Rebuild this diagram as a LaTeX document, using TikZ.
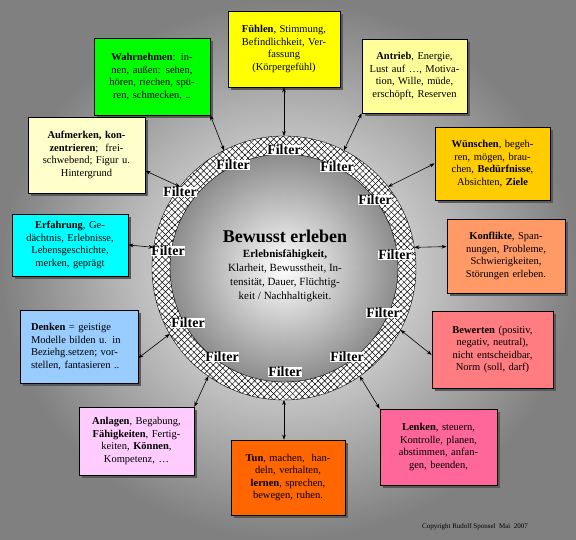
\documentclass[tikz,border=0pt]{standalone}
\usepackage{fontspec}
\setmainfont{Liberation Serif}
\usepackage{tikz}
\usetikzlibrary{arrows.meta,shadows,patterns.meta}

\definecolor{cFuehlen}{HTML}{FFFF00}
\definecolor{cWahr}{HTML}{00FF00}
\definecolor{cAntrieb}{HTML}{FFFF99}
\definecolor{cAufm}{HTML}{FFFFCC}
\definecolor{cWunsch}{HTML}{FFCC00}
\definecolor{cErf}{HTML}{00FFFF}
\definecolor{cKonf}{HTML}{FF9966}
\definecolor{cDenk}{HTML}{99CCFF}
\definecolor{cBew}{HTML}{FF7C80}
\definecolor{cAnl}{HTML}{FFCCFF}
\definecolor{cTun}{HTML}{FF6600}
\definecolor{cLenk}{HTML}{FF6699}

\begin{document}
\begin{tikzpicture}[x=1pt, y=-1pt,
  box/.style={draw, thick, align=center, inner sep=2pt,
    font=\fontsize{10.5}{12.5}\selectfont,
    drop shadow={shadow xshift=3pt, shadow yshift=-3pt, fill=black!65, opacity=1}},
  filter/.style={fill=white, inner sep=0.5pt, font=\fontsize{14}{14}\selectfont\bfseries},
  arrow/.style={{Stealth[length=5pt]}-{Stealth[length=5pt]}, semithick},
]
  \useasboundingbox (0,0) rectangle (576,540);
  \shade[inner color=white, outer color=black!50] (0,0) rectangle (576,540);

  % ring with filters
  \coordinate (c) at (284,268);
  \fill[white] (c) circle (132pt);
  \fill[pattern={Lines[angle=45, distance=4.5pt, line width=0.5pt]}] (c) circle (132pt);
  \fill[pattern={Lines[angle=-45, distance=4.5pt, line width=0.5pt]}] (c) circle (132pt);
  \shade[inner color=white, outer color=black!45] (c) circle (114pt);
  \draw (c) circle (132pt);
  \draw (c) circle (114pt);

  \node[align=center, font=\fontsize{11}{14}\selectfont] (core) at (285,266)
    {{\fontsize{18}{20}\selectfont\bfseries Bewusst erleben}\\[1pt]
     \textbf{Erlebnisfähigkeit,}\\ Klarheit, Bewusstheit, In-\\
     tensität, Dauer, Flüchtig-\\ keit / Nachhaltigkeit.};

  \foreach \x/\y [count=\i] in {284/150, 337/167, 375/200, 395/255, 383/313, 347/357,
      285/372, 222/357, 188/323, 168/251, 180/192, 233/165}
    \node[filter] (f\i) at (\x,\y) {Filter};

  % points on the ring
  \foreach \a [count=\i] in {90, 117, 63, 142, 38, 171, 9, -150, -28, -125, -90, -55}
    \coordinate (r\i) at ([shift={(\a:132pt)}]c);

  % boxes
  \node[box, fill=cFuehlen, minimum width=112pt, minimum height=76pt, text width=106pt] (fuehlen) at (284,49)
    {\textbf{Fühlen}, Stimmung,\\ Befindlichkeit, Ver-\\ fassung\\ (Körpergefühl)};
  \node[box, fill=cWahr, minimum width=116pt, minimum height=77pt, text width=110pt] (wahr) at (152,76.5)
    {\textbf{Wahrnehmen}: in-\\ nen, außen: sehen,\\ hören, riechen, spü-\\ ren, schmecken, ..};
  \node[box, fill=cAntrieb, minimum width=105pt, minimum height=74pt, text width=100pt] (antrieb) at (414.5,76)
    {\textbf{Antrieb}, Energie,\\ Lust auf \ldots, Motiva-\\ tion, Wille, müde,\\ erschöpft, Reserven};
  \node[box, fill=cAufm, minimum width=117pt, minimum height=76pt, text width=111pt] (aufm) at (86.5,155)
    {\textbf{Aufmerken, kon-}\\ \textbf{zentrieren};\ \ frei-\\ schwebend; Figur u.\\ Hintergrund};
  \node[box, fill=cWunsch, minimum width=115pt, minimum height=73pt, text width=109pt] (wunsch) at (492.5,163.5)
    {\textbf{Wünschen}, begeh-\\ ren, mögen, brau-\\ chen, \textbf{Bedürfnisse},\\ Absichten, \textbf{Ziele}};
  \node[box, fill=cErf, minimum width=116pt, minimum height=62pt, text width=110pt] (erf) at (70,245)
    {\textbf{Erfahrung}, Ge-\\ dächtnis, Erlebnisse,\\ Lebensgeschichte,\\ merken, geprägt};
  \node[box, fill=cKonf, minimum width=118pt, minimum height=74pt, text width=112pt] (konf) at (506,256)
    {\textbf{Konflikte}, Span-\\ nungen, Probleme,\\ Schwierigkeiten,\\ Störungen erleben.};
  \node[box, fill=cDenk, minimum width=118pt, minimum height=73pt, text width=96pt, align=left] (denk) at (79,346.5)
    {\makebox[96pt][s]{\textbf{Denken} = geistige}\\ \makebox[96pt][s]{Modelle bilden u. in}\\
     \makebox[96pt][s]{Beziehg.setzen; vor-}\\ stellen, fantasieren ..};
  \node[box, fill=cBew, minimum width=121pt, minimum height=77pt, text width=115pt] (bew) at (492.5,349.5)
    {\textbf{Bewerten} (positiv,\\ negativ, neutral),\\ nicht entscheidbar,\\ Norm (soll, darf)};
  \node[box, fill=cAnl, minimum width=115pt, minimum height=68pt, text width=109pt] (anl) at (136.5,441)
    {\textbf{Anlagen}, Begabung,\\ \textbf{Fähigkeiten}, Fertig-\\ keiten, \textbf{Können},\\ Kompetenz, \ldots};
  \node[box, fill=cTun, minimum width=114pt, minimum height=75pt, text width=108pt] (tun) at (288,477.5)
    {\textbf{Tun}, machen,\ \ han-\\ deln, verhalten,\\ \textbf{lernen}, sprechen,\\ bewegen, ruhen.};
  \node[box, fill=cLenk, minimum width=117pt, minimum height=76pt, text width=111pt] (lenk) at (438.5,447)
    {\textbf{Lenken}, steuern,\\ Kontrolle, planen,\\ abstimmen, anfan-\\ gen, beenden,};

  % connectors
  \draw[arrow] (fuehlen.south -| r1) -- (r1);
  \draw[arrow] (wahr.south east) -- (r2);
  \draw[arrow] (antrieb.south west) -- (r3);
  \draw[arrow] (aufm.-15) -- (r4);
  \draw[arrow] (wunsch.west) -- (r5);
  \draw[arrow] (erf.east) -- (r6);
  \draw[arrow] (konf.171) -- (r7);
  \draw[arrow] (denk.-11) -- (r8);
  \draw[arrow] (bew.-175) -- (r9);
  \draw[arrow] (anl.north east) -- (r10);
  \draw[arrow] (tun.north -| r11) -- (r11);
  \draw[arrow] (lenk.north west) -- (r12);

  \node[font=\fontsize{7}{8}\selectfont] (copy) at (475,527) {Copyright Rudolf Sponsel\ \ Mai\ \ 2007};
\end{tikzpicture}
\end{document}
